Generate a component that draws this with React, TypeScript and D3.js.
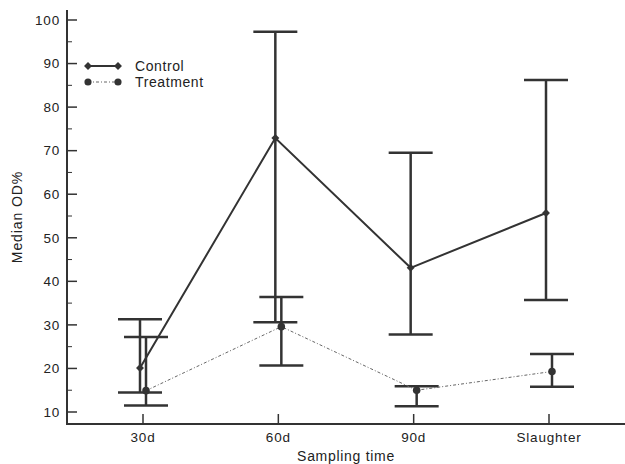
import { useEffect, useRef } from "react";
import * as d3 from "d3";

const categories = ["30d", "60d", "90d", "Slaughter"];
const controlMedian = [20.1, 72.9, 43.1, 55.7];
const controlHigh = [31.3, 97.3, 69.5, 86.2];
const controlLow = [14.5, 30.6, 27.8, 35.7];
const treatMedian = [14.9, 29.6, 15.0, 19.3];
const treatHigh = [27.2, 36.4, 15.9, 23.3];
const treatLow = [11.5, 20.7, 11.3, 15.8];
const yTicks = [10, 20, 30, 40, 50, 60, 70, 80, 90, 100];
const yMinor = [15, 25, 35, 45, 55, 65, 75, 85, 95];

const W = 625;
const H = 464;
const INK = "#333";

export default function App() {
  const ref = useRef<SVGSVGElement | null>(null);

  useEffect(() => {
    const svg = d3.select(ref.current!);
    svg.selectAll("*").remove();

    const x = d3.scalePoint<string>().domain(categories).range([143, 549]);
    const y = d3.scaleLinear().domain([10, 100]).range([412, 20]);
    const font = "Liberation Sans, Arial, sans-serif";

    // axes
    const axisX0 = 67;
    const axisY0 = 424;
    svg.append("line").attr("x1", axisX0).attr("x2", axisX0).attr("y1", 10).attr("y2", axisY0 + 1)
      .attr("stroke", INK).attr("stroke-width", 2);
    svg.append("line").attr("x1", axisX0).attr("x2", W).attr("y1", axisY0).attr("y2", axisY0)
      .attr("stroke", INK).attr("stroke-width", 2);

    const yg = svg.append("g");
    yg.selectAll("line.maj").data(yTicks).join("line")
      .attr("x1", axisX0).attr("x2", axisX0 + 10)
      .attr("y1", (d) => y(d)).attr("y2", (d) => y(d))
      .attr("stroke", INK).attr("stroke-width", 1.5);
    yg.selectAll("line.min").data(yMinor).join("line")
      .attr("x1", axisX0).attr("x2", axisX0 + 5)
      .attr("y1", (d) => y(d)).attr("y2", (d) => y(d))
      .attr("stroke", INK).attr("stroke-width", 1);
    yg.selectAll("text").data(yTicks).join("text")
      .attr("x", 60).attr("y", (d) => y(d)).attr("dy", "0.35em")
      .attr("text-anchor", "end")
      .style("font", `13.5px ${font}`).style("letter-spacing", "0.8px").attr("fill", "#222")
      .text((d) => d);

    const xg = svg.append("g");
    xg.selectAll("line").data(categories).join("line")
      .attr("x1", (d) => x(d)!).attr("x2", (d) => x(d)!)
      .attr("y1", axisY0 - 10).attr("y2", axisY0)
      .attr("stroke", INK).attr("stroke-width", 1.5);
    xg.selectAll("text").data(categories).join("text")
      .attr("x", (d) => x(d)!).attr("y", 437).attr("dy", "0.35em")
      .attr("text-anchor", "middle")
      .style("font", `13.5px ${font}`).style("letter-spacing", "0.8px").attr("fill", "#222")
      .text((d) => d);

    svg.append("text").attr("x", 346).attr("y", 461).attr("text-anchor", "middle")
      .style("font", `14px ${font}`).style("letter-spacing", "0.7px").attr("fill", "#222").text("Sampling time");
    svg.append("text").attr("transform", "translate(22,217) rotate(-90)")
      .attr("text-anchor", "middle")
      .style("font", `14px ${font}`).style("letter-spacing", "0.9px").attr("fill", "#222").text("Median OD%");

    const series = [
      { med: controlMedian, hi: controlHigh, lo: controlLow, dx: -3, dash: null, width: 2, color: INK, marker: "diamond" },
      { med: treatMedian, hi: treatHigh, lo: treatLow, dx: 3, dash: "3,2,1,2", width: 1, color: "#666", marker: "circle" },
    ];

    const cap = 22;
    series.forEach((s) => {
      const pts = categories.map((c, i) => ({ cx: x(c)! + s.dx, m: s.med[i], hi: s.hi[i], lo: s.lo[i] }));
      const g = svg.append("g");
      g.selectAll("line.v").data(pts).join("line")
        .attr("x1", (d) => d.cx).attr("x2", (d) => d.cx)
        .attr("y1", (d) => y(d.hi)).attr("y2", (d) => y(d.lo))
        .attr("stroke", INK).attr("stroke-width", 2.5);
      g.selectAll("line.hi").data(pts).join("line")
        .attr("x1", (d) => d.cx - cap).attr("x2", (d) => d.cx + cap)
        .attr("y1", (d) => y(d.hi)).attr("y2", (d) => y(d.hi))
        .attr("stroke", INK).attr("stroke-width", 2.5);
      g.selectAll("line.lo").data(pts).join("line")
        .attr("x1", (d) => d.cx - cap).attr("x2", (d) => d.cx + cap)
        .attr("y1", (d) => y(d.lo)).attr("y2", (d) => y(d.lo))
        .attr("stroke", INK).attr("stroke-width", 2.5);
      const line = d3.line<{ cx: number; m: number }>().x((d) => d.cx).y((d) => y(d.m));
      g.append("path").attr("d", line(pts)).attr("fill", "none")
        .attr("stroke", s.color).attr("stroke-width", s.width)
        .attr("stroke-dasharray", s.dash);
      const sym = d3.symbol().type(s.marker === "diamond" ? d3.symbolDiamond2 : d3.symbolCircle)
        .size(s.marker === "diamond" ? 40 : 45);
      g.selectAll("path.m").data(pts).join("path")
        .attr("transform", (d) => `translate(${d.cx},${y(d.m)})`)
        .attr("d", sym()).attr("fill", INK);
    });

    // legend
    const leg = svg.append("g");
    series.forEach((s, i) => {
      const ly = 66 + i * 16;
      leg.append("line").attr("x1", 88).attr("x2", 118).attr("y1", ly).attr("y2", ly)
        .attr("stroke", s.color).attr("stroke-width", s.width).attr("stroke-dasharray", s.dash);
      const sym = d3.symbol().type(s.marker === "diamond" ? d3.symbolDiamond2 : d3.symbolCircle)
        .size(40);
      [88, 118].forEach((lx) => {
        leg.append("path").attr("transform", `translate(${lx},${ly})`).attr("d", sym()).attr("fill", INK);
      });
      leg.append("text").attr("x", 135).attr("y", ly).attr("dy", "0.35em")
        .style("font", `14px ${font}`).style("letter-spacing", "0.6px").attr("fill", "#222")
        .text(i === 0 ? "Control" : "Treatment");
    });
  }, []);

  return (
    <svg ref={ref} width={W} height={H} style={{ position: "absolute", left: 0, top: 0, background: "#fff" }} />
  );
}
